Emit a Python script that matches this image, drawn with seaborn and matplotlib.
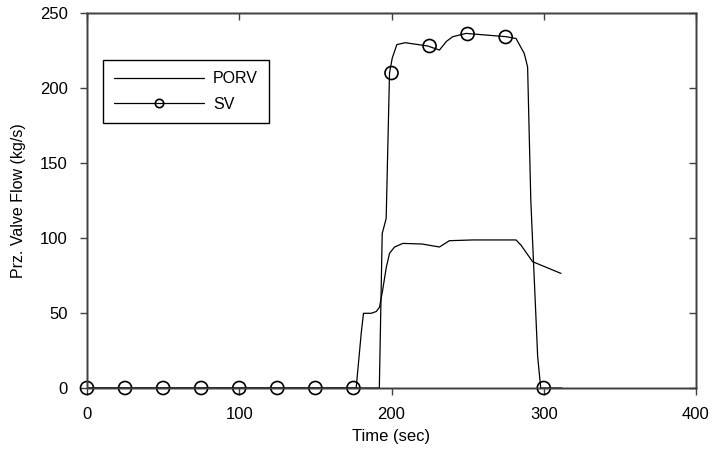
import matplotlib
matplotlib.use("Agg")
import matplotlib.pyplot as plt
import seaborn as sns
import pandas as pd
from matplotlib.lines import Line2D

# PORV curve
porv_t = [0, 176.8, 180.1, 181.6, 186.7, 190.0, 192.1, 194.2, 196.5, 198.7, 202.0, 207.5, 220.0, 231.5, 238.0, 253.3, 281.8, 285.0, 292.7, 311.3]
porv_v = [0, 0, 36.4, 49.8, 49.8, 51.0, 53.8, 65.3, 80.0, 89.8, 94.0, 96.4, 96.0, 94.0, 98.2, 98.7, 98.7, 95.3, 84.2, 76.4]

# SV curve
sv_t = [0, 192.0, 193.9, 196.5, 198.7, 200.5, 203.5, 209.0, 223.8, 231.5, 236.0, 240.2, 249.0, 275.3, 281.8, 287.2, 289.4, 291.5, 296.0, 298.0, 312.0]
sv_v = [0, 0, 103.0, 113.0, 210.0, 220.0, 228.9, 230.2, 228.0, 225.3, 231.0, 234.2, 236.4, 234.2, 233.0, 223.0, 214.0, 125.0, 21.0, 0, 0]

# SV markers (every 25 s)
sv_mt = [0, 25, 50, 75, 100, 125, 150, 175, 200, 225, 250, 275, 300]
sv_mv = [0, 0, 0, 0, 0, 0, 0, 0, 210, 228, 236, 234, 0]

x_ticks = [0, 100, 200, 300, 400]
y_ticks = [0, 50, 100, 150, 200, 250]

sns.set_style("ticks")
plt.rcParams['font.family'] = ['Liberation Sans', 'DejaVu Sans']
plt.rcParams['font.size'] = 12
plt.rcParams['text.color'] = 'black'
plt.rcParams['axes.labelcolor'] = 'black'

spine_col = "#404040"

fig = plt.figure(figsize=(7.13, 4.49), dpi=100)
ax = fig.add_axes([87/713, 1-388/449, (696-87)/713, (388-13)/449])

df_p = pd.DataFrame({"t": porv_t, "v": porv_v})
df_s = pd.DataFrame({"t": sv_t, "v": sv_v})
df_m = pd.DataFrame({"t": sv_mt, "v": sv_mv})

sns.lineplot(data=df_p, x="t", y="v", ax=ax, color="black", linewidth=0.9, sort=False, estimator=None)
sns.lineplot(data=df_s, x="t", y="v", ax=ax, color="black", linewidth=0.9, sort=False, estimator=None)
sns.scatterplot(data=df_m, x="t", y="v", ax=ax, marker="o", s=88, facecolors="none",
                edgecolor="black", linewidth=1.2, zorder=5, clip_on=False)

ax.set_xlim(0, 400)
ax.set_ylim(0, 250)
ax.set_xticks(x_ticks)
ax.set_yticks(y_ticks)
ax.tick_params(direction="out", top=False, right=False, length=5, width=1.0,
               labelsize=12, colors=spine_col, labelcolor="black", pad=9)
for s in ax.spines.values():
    s.set_linewidth(1.0)
    s.set_color(spine_col)

# inward ticks on top and right
axr = ax.twinx()
axr.set_ylim(0, 250)
axr.set_yticks(y_ticks)
axr.tick_params(axis="y", direction="in", length=5, width=1.0, colors=spine_col, labelright=False)
axt = ax.twiny()
axt.set_xlim(0, 400)
axt.set_xticks(x_ticks)
axt.tick_params(axis="x", direction="in", length=5, width=1.0, colors=spine_col, labeltop=False)
for a in (axr, axt):
    for s in a.spines.values():
        s.set_linewidth(1.0)
        s.set_color(spine_col)
    a.grid(False)

ax.set_xlabel("Time (sec)", fontsize=12, labelpad=5)
ax.set_ylabel("Prz. Valve Flow (kg/s)", fontsize=11.5, labelpad=10)

handles = [Line2D([], [], color="black", linewidth=0.9),
           Line2D([], [], color="black", linewidth=0.9, marker="o", markersize=6,
                  markerfacecolor="none", markeredgecolor="black", markeredgewidth=1.2)]
leg = axt.legend(handles, ["PORV", "SV"], loc="upper left",
                 bbox_to_anchor=(103/713, 1-60/449), bbox_transform=fig.transFigure,
                 frameon=True, fancybox=False, edgecolor="black", framealpha=1,
                 handlelength=5.6, handletextpad=0.6, borderpad=0.7, labelspacing=0.65,
                 fontsize=11.5, numpoints=1, borderaxespad=0)
leg.get_frame().set_linewidth(1.0)

fig.savefig("out.png", dpi=100)
